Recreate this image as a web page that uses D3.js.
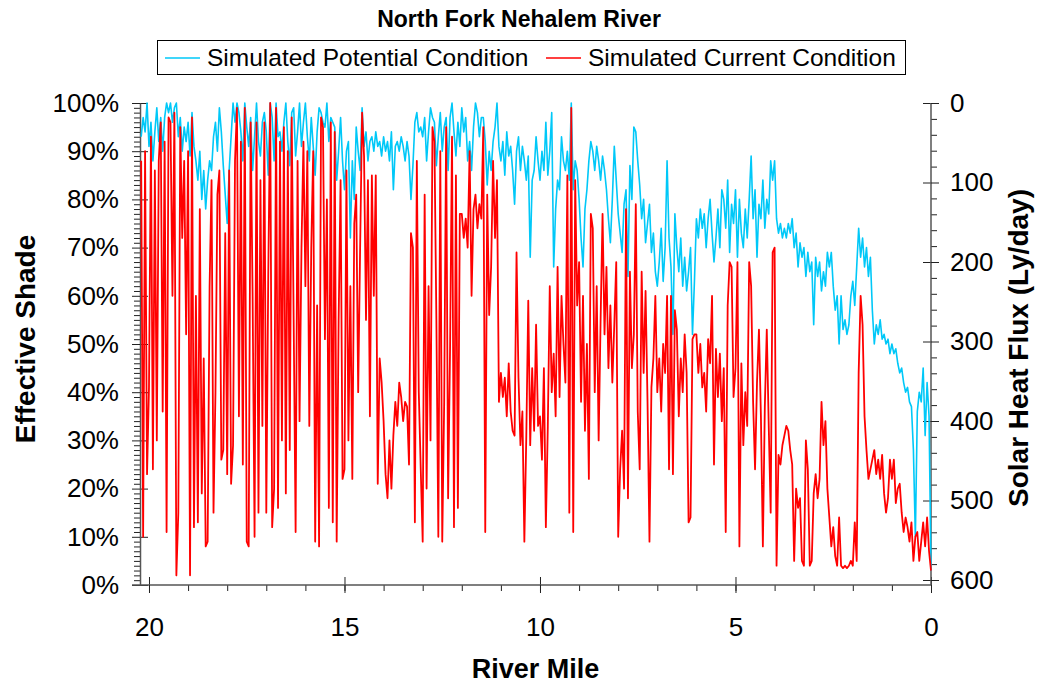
<!DOCTYPE html>
<html>
<head>
<meta charset="utf-8">
<script src="https://d3js.org/d3.v7.min.js"></script>
<style>
  body { margin: 0; background: #fff; }
  svg { display: block; font-family: "Liberation Sans", Arial, sans-serif; }
  .domain { stroke: #555; stroke-width: 1.5; }
  .tick line { stroke: #222; stroke-width: 1; }
</style>
</head>
<body>
<svg id="chart" width="1037" height="687"></svg>
<script>
// river mile grid: first sample at 20.2, every 0.05 mi down to the mouth
const mileStart = 20.2
const mileStep = 0.05

// effective shade (%), one row per river mile (upstream -> downstream)
const potentialShade = [
  93, 97, 94, 100,
  91, 96, 88, 94, 99, 92, 97, 90, 97, 100, 98, 100, 96, 99, 100, 93, 97, 90, 95, 92,
  96, 89, 98, 91, 88, 84, 90, 80, 86, 78, 84, 88, 86, 93, 96, 90, 99, 94, 87, 81,
  75, 86, 93, 100, 96, 100, 98, 94, 88, 100, 95, 91, 97, 86, 93, 100, 92, 89, 96, 98,
  94, 85, 100, 97, 88, 100, 93, 94, 90, 96, 100, 92, 87, 98, 99, 89, 94, 100, 91, 96,
  100, 93, 88, 97, 91, 85, 94, 99, 98, 96, 95, 100, 92, 97, 96, 95, 84, 90, 97, 88,
  82, 90, 92, 72, 88, 80, 95, 90, 86, 99, 91, 94, 88, 92, 93, 90, 94, 91, 92, 89,
  93, 90, 92, 88, 94, 82, 91, 92, 90, 93, 91, 88, 92, 89, 80, 87, 96, 98, 94, 95,
  93, 97, 88, 94, 99, 97, 96, 87, 93, 98, 90, 95, 97, 86, 97, 100, 94, 89, 96, 91,
  99, 94, 97, 88, 92, 86, 95, 100, 98, 93, 97, 97, 92, 83, 90, 86, 92, 95, 100, 91,
  88, 92, 85, 94, 89, 91, 86, 79, 90, 93, 86, 91, 88, 84, 89, 68, 84, 86, 93, 88,
  84, 90, 86, 96, 85, 90, 98, 66, 78, 84, 82, 93, 88, 86, 90, 84, 100, 82, 88, 86,
  80, 72, 66, 78, 82, 88, 92, 90, 86, 91, 88, 84, 89, 86, 82, 76, 71, 80, 91, 84,
  77, 73, 69, 79, 82, 64, 87, 80, 95, 94, 88, 83, 76, 80, 71, 75, 79, 69, 73, 65,
  62, 67, 74, 63, 70, 88, 72, 66, 52, 77, 70, 65, 72, 62, 68, 61, 65, 70, 52, 63,
  76, 72, 78, 74, 77, 70, 76, 80, 73, 67, 72, 78, 70, 82, 80, 74, 84, 69, 79, 75,
  82, 68, 80, 73, 70, 78, 72, 80, 89, 76, 82, 68, 79, 76, 84, 74, 80, 77, 88, 84,
  88, 76, 73, 75, 72, 74, 72, 75, 73, 76, 70, 73, 66, 71, 68, 70, 64, 69, 65, 67,
  54, 68, 64, 67, 61, 65, 62, 69, 66, 69, 62, 57, 60, 50, 60, 53, 55, 52, 54, 60,
  63, 58, 66, 74, 68, 72, 66, 70, 64, 68, 57, 50, 54, 52, 55, 51, 52, 50, 51, 48,
  50, 48, 49, 46, 44, 45, 42, 40, 41, 38, 37, 28, 10, 36, 40, 38, 45, 31, 42, 35,
  3
]

const currentShade = [
  88, 10, 90, 23,
  41, 93, 24, 86, 30, 88, 96, 36, 92, 11, 97, 96, 60, 98, 2, 15, 95, 72, 88, 52,
  90, 2, 97, 12, 60, 13, 78, 19, 47, 8, 9, 62, 84, 15, 40, 81, 86, 26, 28, 73,
  23, 86, 21, 29, 88, 99, 35, 92, 25, 99, 9, 8, 96, 60, 10, 96, 15, 84, 33, 96,
  15, 64, 100, 12, 20, 99, 16, 92, 30, 95, 19, 90, 28, 97, 55, 11, 88, 34, 70, 92,
  62, 90, 33, 70, 90, 9, 58, 8, 97, 95, 51, 80, 16, 96, 13, 94, 9, 55, 84, 22,
  24, 86, 30, 62, 22, 75, 81, 40, 70, 98, 89, 55, 84, 35, 85, 60, 85, 21, 47, 42,
  34, 23, 18, 30, 20, 31, 38, 33, 42, 39, 34, 38, 37, 25, 73, 70, 13, 88, 40, 24,
  9, 81, 20, 62, 30, 95, 92, 55, 10, 90, 9, 38, 95, 18, 49, 93, 12, 85, 16, 77,
  77, 72, 76, 70, 90, 60, 78, 81, 74, 79, 76, 95, 11, 81, 56, 66, 88, 72, 84, 38,
  44, 39, 43, 35, 46, 36, 32, 31, 69, 43, 29, 36, 9, 31, 59, 29, 45, 32, 54, 33,
  35, 26, 45, 12, 33, 62, 40, 48, 35, 66, 39, 60, 50, 42, 85, 15, 99, 11, 84, 58,
  67, 38, 60, 32, 50, 22, 77, 74, 40, 62, 30, 55, 77, 52, 66, 45, 58, 42, 54, 67,
  10, 24, 32, 20, 78, 18, 65, 45, 52, 79, 36, 24, 65, 44, 61, 38, 9, 41, 47, 60,
  40, 47, 36, 50, 44, 60, 24, 60, 23, 57, 53, 35, 47, 40, 52, 44, 13, 14, 51, 52,
  52, 44, 50, 41, 44, 36, 51, 46, 60, 25, 49, 39, 48, 34, 45, 11, 58, 67, 66, 39,
  45, 67, 8, 46, 29, 40, 33, 67, 62, 38, 24, 42, 53, 35, 8, 37, 53, 33, 15, 69,
  70, 4, 27, 25, 29, 31, 33, 32, 28, 25, 5, 20, 16, 18, 5, 4, 30, 24, 4, 5,
  19, 23, 18, 22, 38, 29, 34, 20, 14, 8, 12, 6, 4, 14, 4, 3.5, 4, 3.5, 4, 5,
  4, 13, 5, 44, 60, 54, 35, 28, 22, 24, 26, 28, 23, 26, 22, 27, 19, 15, 18, 26,
  22, 26, 17, 20, 21, 15, 11, 14, 12, 9, 13, 5, 10, 11, 5, 9, 13, 8, 14, 7,
  3
]

const riverMile = potentialShade.map((d, i) => +(mileStart - i * mileStep).toFixed(2))

const seriesNames = ["Simulated Potential Condition", "Simulated Current Condition"]
const seriesColors = ["#00c8f8", "#ff0000"]
const shadeTicks = d3.range(0, 101, 10)
const fluxTicks = d3.range(0, 601, 100)
const mileTicks = [0, 5, 10, 15, 20]

const plot = { left: 140, right: 931, top: 103, bottom: 585 }
const svg = d3.select("#chart")

const x = d3.scaleLinear().domain([20.23, 0]).range([plot.left, plot.right])
const yShade = d3.scaleLinear().domain([0, 100]).range([plot.bottom, plot.top])
const yFlux = d3.scaleLinear().domain([0, 600]).range([plot.top, 580])

// ---- axes ----
const tickFont = "26px"

// left (shade)
svg.append("g").attr("transform", `translate(${plot.left},0)`)
  .call(d3.axisLeft(yShade).tickValues(d3.range(0, 101).filter(d => d % 10)).tickSize(6).tickSizeOuter(0).tickFormat(""))
  .call(g => g.select(".domain").remove())
svg.append("g").attr("transform", `translate(${plot.left},0)`)
  .call(d3.axisRight(yShade).tickValues(shadeTicks).tickSize(8).tickFormat(""))
  .call(g => g.select(".domain").remove())
svg.append("g").attr("transform", `translate(${plot.left},0)`)
  .call(d3.axisLeft(yShade).tickValues(shadeTicks).tickSize(8).tickSizeOuter(0).tickPadding(13).tickFormat(d => d + "%"))
  .call(g => g.selectAll("text").attr("font-size", tickFont).attr("fill", "#000"))

// bottom (river mile)
svg.append("g").attr("transform", `translate(0,${plot.bottom})`)
  .call(d3.axisBottom(x).tickValues(d3.range(0, 21)).tickSize(6).tickFormat(""))
  .call(g => g.select(".domain").remove())
svg.append("g").attr("transform", `translate(0,${plot.bottom})`)
  .call(d3.axisTop(x).tickValues(mileTicks).tickSize(8).tickFormat(""))
  .call(g => g.select(".domain").remove())
svg.append("g").attr("transform", `translate(0,${plot.bottom})`)
  .call(d3.axisBottom(x).tickValues(mileTicks).tickSize(8).tickSizeOuter(0).tickPadding(25).tickFormat(d3.format("d")))
  .call(g => g.select(".domain").attr("d", `M${plot.left - 8},0H${plot.right}`))
  .call(g => g.selectAll("text").attr("font-size", tickFont).attr("fill", "#000"))

// right (solar heat flux)
svg.append("g").attr("transform", `translate(${plot.right},0)`)
  .call(d3.axisRight(yFlux).tickValues(d3.range(0, 601, 20).filter(d => d % 100)).tickSize(6).tickFormat(""))
  .call(g => g.select(".domain").remove())
svg.append("g").attr("transform", `translate(${plot.right},0)`)
  .call(d3.axisLeft(yFlux).tickValues(fluxTicks).tickSize(8).tickFormat(""))
  .call(g => g.select(".domain").remove())
svg.append("g").attr("transform", `translate(${plot.right},0)`)
  .call(d3.axisRight(yFlux).tickValues(fluxTicks).tickSize(8).tickSizeOuter(0).tickPadding(11))
  .call(g => g.select(".domain").attr("d", `M0,${plot.top}V${plot.bottom}`))
  .call(g => g.selectAll("text").attr("font-size", tickFont).attr("fill", "#000"))

// ---- series ----
const line = d3.line()
  .x((d, i) => x(riverMile[i]))
  .y(d => yShade(d))

svg.append("path")
  .datum(potentialShade)
  .attr("fill", "none")
  .attr("stroke", seriesColors[0])
  .attr("stroke-width", 1.6)
  .attr("stroke-linejoin", "round")
  .attr("d", line)

svg.append("path")
  .datum(currentShade)
  .attr("fill", "none")
  .attr("stroke", seriesColors[1])
  .attr("stroke-width", 1.8)
  .attr("stroke-linejoin", "round")
  .attr("d", line)

// ---- titles ----
svg.append("text")
  .attr("x", 519).attr("y", 27)
  .attr("text-anchor", "middle")
  .attr("font-size", "23px").attr("font-weight", "bold")
  .text("North Fork Nehalem River")

svg.append("text")
  .attr("transform", `translate(35,339) rotate(-90)`)
  .attr("text-anchor", "middle")
  .attr("font-size", "28px").attr("font-weight", "bold")
  .text("Effective Shade")

svg.append("text")
  .attr("transform", `translate(1028,348) rotate(-90)`)
  .attr("text-anchor", "middle")
  .attr("font-size", "28px").attr("font-weight", "bold")
  .text("Solar Heat Flux (Ly/day)")

svg.append("text")
  .attr("x", (plot.left + plot.right) / 2).attr("y", 678)
  .attr("text-anchor", "middle")
  .attr("font-size", "27px").attr("font-weight", "bold")
  .text("River Mile")

// ---- legend ----
const legend = svg.append("g")
legend.append("rect")
  .attr("x", 157.5).attr("y", 40.5).attr("width", 748).attr("height", 34)
  .attr("fill", "#fff").attr("stroke", "#000")
const legendX = [165, 546]
seriesNames.forEach((name, i) => {
  legend.append("line")
    .attr("x1", legendX[i]).attr("x2", legendX[i] + 35)
    .attr("y1", 58).attr("y2", 58)
    .attr("stroke", seriesColors[i]).attr("stroke-width", 1.6)
  legend.append("text")
    .attr("x", legendX[i] + 42).attr("y", 66)
    .attr("font-size", "24.5px")
    .text(name)
})
</script>
</body>
</html>
